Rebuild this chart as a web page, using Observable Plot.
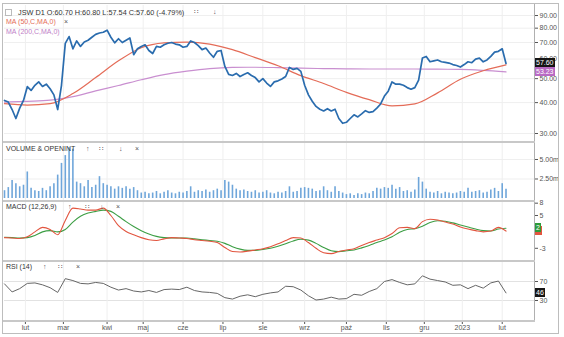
<!DOCTYPE html>
<html><head><meta charset="utf-8">
<script src="https://cdn.jsdelivr.net/npm/d3@7"></script>
<script src="https://cdn.jsdelivr.net/npm/@observablehq/plot@0.6"></script>
<style>
body{margin:0;background:#fff;font-family:"Liberation Sans",Arial,sans-serif;}
#c{position:relative;width:564px;height:337px;overflow:hidden;background:#fff;}
.t{position:absolute;font-size:7px;color:#333;white-space:nowrap;line-height:8px;}
.box{position:absolute;font-size:7px;color:#fff;line-height:9px;height:9px;padding:0 1px;white-space:nowrap;}
.ln{position:absolute;background:#c8c8c8;}
</style></head><body><div id="c"></div>
<script>
// ---- data (trading-day index; day 0 = first bar) ----
const priceStep = 2;
const price = [40.8,40.2,37.5,34.5,38.0,40.8,46.4,44.8,47.0,48.5,
46.5,47.5,45.5,43.0,37.5,47.0,69.4,74.0,66.0,71.0,
67.5,70.3,71.5,73.5,75.5,76.5,77.0,78.5,73.5,69.8,
72.5,70.0,71.5,73.0,62.5,66.0,67.5,68.5,65.0,63.2,
67.5,67.0,68.5,69.5,70.0,69.0,68.5,67.0,67.5,71.0,
70.0,68.0,65.5,66.5,63.5,61.0,64.5,65.0,56.0,52.0,
51.5,52.5,51.0,52.0,52.8,51.5,50.5,48.5,50.0,48.0,
46.5,48.5,49.0,49.8,51.0,55.5,54.5,55.0,53.5,47.0,
43.0,40.5,38.6,37.6,37.0,37.8,37.0,37.6,34.5,33.0,
33.3,34.5,35.7,35.0,36.0,37.1,36.5,36.8,38.0,39.5,
42.5,44.5,48.5,47.5,47.5,47.0,46.0,45.3,46.0,49.3,
60.6,61.5,58.5,59.0,59.5,58.5,58.2,57.8,57.0,56.5,
55.7,57.0,58.5,58.0,60.0,60.5,58.5,59.5,61.5,64.0,
64.5,66.0,57.6];
const maStep = 12;
const ma50 = [39.6,39.1,39.6,43.5,50.5,59.0,66.7,69.8,70.3,69.0,65.5,60.8,56.4,51.4,47.8,44.0,41.1,38.8,39.5,43.8,49.7,53.8,56.8];
const ma200 = [40.2,40.5,40.9,42.3,44.6,46.9,49.5,51.9,53.6,54.9,55.5,55.6,55.4,55.1,54.9,54.8,54.7,54.7,54.7,54.6,54.5,54.0,53.23];
const volStep = 2; // millions
const volume = [1.0,1.4,2.3,1.9,1.5,1.7,3.4,1.3,1.0,0.9,
1.3,1.0,1.5,1.9,3.0,4.5,5.5,6.5,6.3,2.1,
1.9,1.5,2.3,1.4,1.7,2.8,1.9,1.7,1.5,1.2,
1.5,1.3,1.5,1.2,1.4,1.0,0.7,0.8,0.6,0.7,
0.9,0.6,0.8,1.0,0.7,0.6,0.8,0.7,0.9,1.5,
0.8,1.0,0.9,1.1,0.8,1.0,1.2,1.0,2.3,2.1,
1.7,1.2,1.0,1.1,0.9,0.8,1.0,0.7,0.8,1.0,
0.7,0.6,0.8,0.7,0.9,1.5,0.8,0.9,1.3,1.4,
1.3,1.2,0.9,1.0,1.5,1.0,0.8,1.5,0.9,0.7,
0.5,0.6,0.4,0.6,0.5,0.7,0.6,0.9,1.3,1.2,
1.4,1.3,1.7,1.2,1.4,0.9,1.0,0.8,1.1,2.7,
2.1,1.2,0.8,0.7,0.9,0.6,0.8,0.7,0.6,0.7,
0.9,0.8,1.3,0.8,0.9,1.0,0.7,0.8,1.1,1.3,
0.9,1.9,1.2];
const oscStep = 4;
const macd = [-0.4,-0.5,-0.6,-0.2,1.0,2.1,1.6,0.3,3.8,6.8,
6.6,6.3,6.3,6.8,5.0,2.5,1.1,0.3,-0.4,-0.9,
-1.1,-0.7,-0.4,-0.5,-0.6,-0.9,-1.1,-1.3,-1.6,-2.8,
-3.8,-3.9,-3.7,-3.4,-3.1,-2.6,-1.9,-1.1,-0.4,-0.5,
-1.6,-3.0,-4.1,-4.3,-3.8,-3.4,-3.1,-2.3,-1.6,-1.0,
-0.4,0.6,2.0,2.1,1.8,3.5,4.1,3.9,3.4,2.9,
2.2,1.7,1.3,1.0,1.2,2.1,1.2];
const signal = [-0.3,-0.4,-0.5,-0.4,0.1,1.0,1.3,1.0,1.6,3.4,
4.8,5.6,6.0,6.3,6.0,4.8,3.5,2.3,1.3,0.5,
-0.1,-0.4,-0.5,-0.5,-0.5,-0.7,-0.9,-1.1,-1.3,-1.8,
-2.6,-3.2,-3.5,-3.5,-3.3,-3.0,-2.5,-1.9,-1.2,-0.8,
-1.0,-1.8,-2.8,-3.6,-3.8,-3.6,-3.4,-2.9,-2.3,-1.6,
-1.0,-0.2,0.9,1.6,1.8,2.4,3.3,3.7,3.6,3.2,
2.7,2.2,1.7,1.3,1.2,1.7,1.9];
const rsi = [65,48,55,66,67,63,57,47,76,72,
66,65,68,66,58,52,55,50,48,51,
47,53,54,53,58,51,48,47,45,36,
33,39,42,38,43,46,48,60,59,52,
40,31,33,37,33,34,43,41,49,55,
70,74,68,63,65,82,75,72,69,62,
63,55,62,56,67,71,46];
const monthLabels = ["lut","mar","kwi","maj","cze","lip","sie","wrz","paź","lis","gru","2023","lut"];
const monthStartDay = [11,31,54,73,94,115,136,158,180,201,221,241,262];
const priceTicks = [30,40,50,60,70,80,90];
const volTicks = [2.5,5];
const macdTicks = [8,5,-3];
const rsiTicks = [70,30];

// ---- drawing ----
const W = 564, ML = 4, MR = 30;
const xDomain = [0, 279];
const font = '"Liberation Sans", Arial, sans-serif';
const c = document.getElementById("c");
const grid = "#efefef";
const last = a => a[a.length - 1];

function addPlot(top, height, y, marks) {
  const p = Plot.plot({
    width: W, height, marginLeft: ML, marginRight: MR, marginTop: 0, marginBottom: 0,
    x: {domain: xDomain, axis: null},
    y: Object.assign({axis: "right", label: null, tickSize: 3, tickPadding: 2}, y),
    marks,
    style: {fontFamily: font, fontSize: "7px", color: "#555", background: "transparent", overflow: "visible"}
  });
  p.style.position = "absolute"; p.style.left = "0px"; p.style.top = top + "px";
  c.appendChild(p);
  return p;
}
function div(cls, html, left, top, extra) {
  const d = document.createElement("div");
  d.className = cls; d.innerHTML = html;
  d.style.left = left + "px"; d.style.top = top + "px";
  if (extra) Object.assign(d.style, extra);
  c.appendChild(d);
  return d;
}
function valueBox(p, panelTop, v, text, bg, w) {
  const y = panelTop + p.scale("y").apply(v);
  const d = div("box", text, 535, Math.round(y - 4.5), {background: bg});
  if (w) d.style.width = w + "px";
}
const vGrid = Plot.ruleX(monthStartDay, {stroke: grid});

// price panel
const pTop = 5;
const pp = addPlot(pTop, 137, {type: "log", domain: [27.59, 98.8], ticks: priceTicks, tickFormat: d => d.toFixed(2)}, [
  Plot.ruleY(priceTicks, {stroke: grid}), vGrid,
  Plot.line(ma200, {x: (d, i) => i * maStep, y: d => d, stroke: "#c98fd0", strokeWidth: 1.2, curve: "monotone-x"}),
  Plot.line(ma50, {x: (d, i) => i * maStep, y: d => d, stroke: "#e46c58", strokeWidth: 1.2, curve: "monotone-x"}),
  Plot.line(price, {x: (d, i) => i * priceStep, y: d => d, stroke: "#2a6cae", strokeWidth: 1.7})
]);

// volume panel
const vTop = 143;
const vp = addPlot(vTop, 58, {domain: [-0.385, 7.05], ticks: volTicks, tickFormat: d => d.toFixed(2) + "m"}, [
  Plot.ruleY(volTicks, {stroke: grid}), vGrid,
  Plot.ruleX(volume, {x: (d, i) => i * volStep, y1: 0, y2: d => d, stroke: "#6fa6da", strokeWidth: 1.6})
]);

// MACD panel
const mTop = 201;
const mp = addPlot(mTop, 60, {domain: [-6.22, 8.41], ticks: macdTicks, tickFormat: d => String(d)}, [
  vGrid,
  Plot.line(signal, {x: (d, i) => i * oscStep, y: d => d, stroke: "#3c9e44", strokeWidth: 1.1, curve: "monotone-x"}),
  Plot.line(macd, {x: (d, i) => i * oscStep, y: d => d, stroke: "#e2553f", strokeWidth: 1.1, curve: "monotone-x"})
]);

// RSI panel
const rTop = 262;
const rp = addPlot(rTop, 59, {domain: [-14.2, 110], ticks: rsiTicks, tickFormat: d => String(d)}, [
  Plot.ruleY(rsiTicks, {stroke: "#e2e2e2"}), vGrid,
  Plot.line(rsi, {x: (d, i) => i * oscStep, y: d => d, stroke: "#666", strokeWidth: 1})
]);

// x axis
const xa = Plot.plot({
  width: W, height: 16, marginLeft: ML, marginRight: MR, marginTop: 0, marginBottom: 14,
  x: {domain: xDomain, ticks: monthStartDay, tickFormat: d => monthLabels[monthStartDay.indexOf(d)], tickSize: 3, tickPadding: 1, label: null},
  marks: [Plot.ruleX(monthStartDay, {strokeOpacity: 0})],
  style: {fontFamily: font, fontSize: "7px", color: "#555", background: "transparent", overflow: "visible"}
});
xa.style.position = "absolute"; xa.style.left = "0px"; xa.style.top = "319px";
c.appendChild(xa);

// frame & separators
div("ln", "", 2, 3, {width: "556px", height: "1px", background: "#bdbdbd"});
div("ln", "", 2, 3, {width: "1px", height: "331px", background: "#bdbdbd"});
div("ln", "", 558, 3, {width: "1px", height: "331px", background: "#bdbdbd"});
div("ln", "", 2, 333, {width: "557px", height: "1px", background: "#bdbdbd"});
div("ln", "", 534, 4, {width: "1px", height: "317px", background: "#b0b0b0"});
[141, 200, 260, 320].forEach(y => div("ln", "", 3, y, {width: "532px", height: "2px"}));

// titles
div("t", "", 5, 9, {width: "5px", height: "5px", border: "1px solid #bbb"});
div("t", "JSW D1 O:60.70 H:60.80 L:57.54 C:57.60 (-4.79%)", 18, 8, {color: "#333", fontSize: "7.3px", lineHeight: "9px"});
div("t", "∷", 194, 8, {color: "#555"});
div("t", "↓", 213, 8, {color: "#555"});
div("t", "MA (50,C,MA,0)", 6, 18, {color: "#e46c58"});
div("t", "×", 64, 18, {color: "#555"});
div("t", "MA (200,C,MA,0)", 6, 28, {color: "#c080c8"});
div("t", "VOLUME &amp; OPENINT", 6, 145, {color: "#333"});
div("t", "↑", 86, 145, {color: "#555"});
div("t", "∷", 99, 145, {color: "#555"});
div("t", "↓", 119, 145, {color: "#555"});
div("t", "×", 135, 145, {color: "#555"});
div("t", "MACD (12,26,9)", 6, 203, {color: "#333"});
div("t", "↑", 68, 203, {color: "#555"});
div("t", "∷", 85, 203, {color: "#555"});
div("t", "↓", 100, 203, {color: "#555"});
div("t", "×", 116, 203, {color: "#555"});
div("t", "RSI (14)", 6, 263, {color: "#333"});
div("t", "↑", 43, 263, {color: "#555"});
div("t", "∷", 58, 263, {color: "#555"});
div("t", "×", 76, 263, {color: "#555"});

// last-value boxes
valueBox(pp, pTop, last(ma200), last(ma200).toFixed(2), "#b86ac4");
valueBox(pp, pTop, last(price), last(price).toFixed(2), "#151515");
valueBox(mp, mTop, last(macd), "", "#e2553f", 5);
valueBox(mp, mTop, last(signal), String(Math.round(last(signal))), "#2e9a3a");
valueBox(rp, rTop, last(rsi), String(last(rsi)), "#151515");
</script></body></html>
